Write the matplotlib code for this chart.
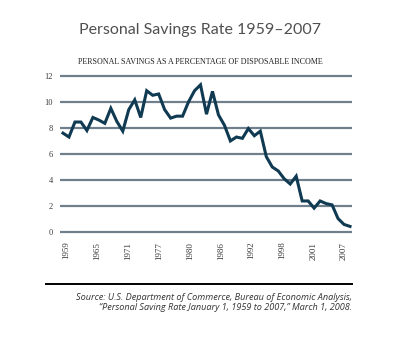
import numpy as np
import matplotlib
matplotlib.use("Agg")
import matplotlib.pyplot as plt

# ============================
# DATA
# ============================
years = list(range(1959, 2008))
savings_rate = [
    7.6, 7.3, 8.45, 8.45, 7.8, 8.8, 8.6, 8.35, 9.5, 8.5,
    7.75, 9.4, 10.15, 8.8, 10.85, 10.5, 10.6, 9.4, 8.75, 8.9,
    8.9, 10.0, 10.85, 11.3, 9.05, 10.8, 9.0, 8.2, 7.0, 7.3,
    7.2, 7.95, 7.4, 7.75, 5.8, 5.0, 4.7, 4.1, 3.7, 4.3,
    2.4, 2.4, 1.85, 2.4, 2.2, 2.1, 1.05, 0.6, 0.45,
]
tick_labels = ["1959", "1965", "1971", "1977", "1980",
               "1986", "1992", "1998", "2001", "2007"]
y_ticks = [0, 2, 4, 6, 8, 10, 12]

LINE_COLOR = "#0f3a52"
GRID_COLOR = "#6f808c"
TEXT_COLOR = "#3a3a3a"

# ============================
# FIGURE
# ============================
fig = plt.figure(figsize=(4.0, 3.43), dpi=100)
fig.patch.set_facecolor("white")

ax = fig.add_axes([0.15, 0.3114, 0.731, 0.4793])
x = np.arange(len(years))
ax.plot(x, savings_rate, color=LINE_COLOR, lw=2.2, solid_joinstyle="miter",
        zorder=3)

ax.set_xlim(-0.5, 48.4)
ax.set_ylim(-0.3, 12.3)

for v in y_ticks:
    ax.axhline(v, color=GRID_COLOR, lw=1.6, zorder=1)

ax.set_yticks(y_ticks)
ax.set_yticklabels([str(v) for v in y_ticks], family="Liberation Serif",
                   fontsize=6, color=TEXT_COLOR)
ax.set_xticks(np.linspace(0.6, 47.0, len(tick_labels)))
ax.set_xticklabels(tick_labels, rotation=90, family="Liberation Serif",
                   fontsize=6.5, color=TEXT_COLOR, va="top")
ax.tick_params(axis="both", length=0)
ax.tick_params(axis="y", pad=5)
ax.tick_params(axis="x", pad=4)
for s in ax.spines.values():
    s.set_visible(False)

# ============================
# TITLES AND SOURCE NOTE
# ============================
fig.text(0.5, 1 - 30 / 343, "Personal Savings Rate 1959\u20132007",
         ha="center", va="center", fontsize=11.5, family="Lato",
         color="#505050")
fig.text(0.5, 1 - 62 / 343,
         "PERSONAL SAVINGS AS A PERCENTAGE OF DISPOSABLE INCOME",
         ha="center", va="center", fontsize=5.8, family="Liberation Serif",
         color="#222222")

fig.add_artist(plt.Line2D([46 / 400, 352 / 400], [1 - 283.5 / 343] * 2,
                          color="black", lw=1.4))

fig.text(352 / 400, 1 - 297 / 343,
         "Source: U.S. Department of Commerce, Bureau of Economic Analysis,",
         ha="right", va="center", fontsize=6.6, family="Open Sans",
         style="italic", color="#333333")
fig.text(352 / 400, 1 - 307.5 / 343,
         "\u201cPersonal Saving Rate January 1, 1959 to 2007,\u201d March 1, 2008.",
         ha="right", va="center", fontsize=6.6, family="Open Sans",
         style="italic", color="#333333")

fig.savefig("out.png", dpi=100, facecolor="white")
